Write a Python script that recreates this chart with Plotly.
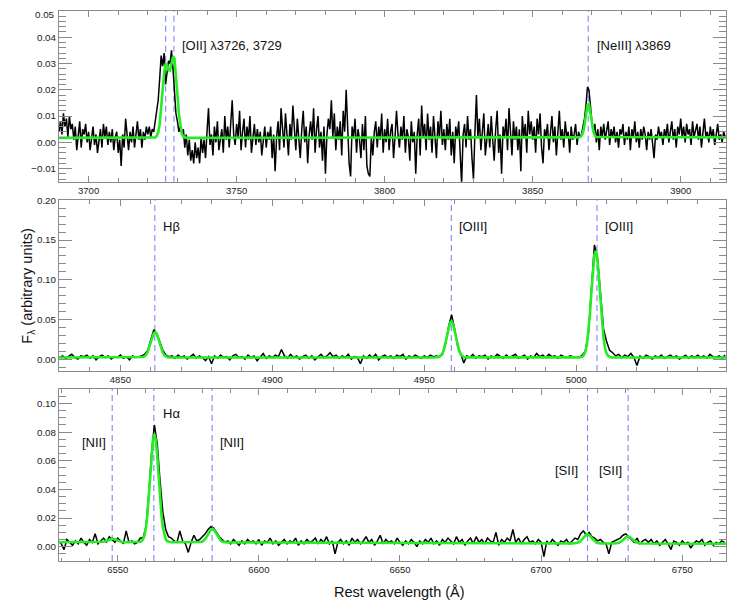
import numpy as np
import plotly.graph_objects as go

# ---------------- Panel 1 : [OII] / [NeIII] region ----------------
p1_start, p1_step = 3690.0, 0.5
p1_flux = [
    0.004, 0.008, 0.003, 0.011, 0.006, 0.009, 0.002, 0.010, 0.005, 0.007,
    0.001, 0.006, -0.003, 0.004, 0.008, -0.002, 0.005, 0.003, 0.007, 0.000,
    0.004, -0.003, 0.002, 0.006, -0.001, 0.003, -0.004, 0.001, 0.005, -0.002,
    0.007, 0.002, 0.006, -0.001, 0.004, 0.000, 0.005, -0.003, 0.002, 0.004,
    -0.004, 0.001, -0.009, 0.003, -0.002, 0.009, 0.002, -0.003, 0.004, 0.000,
    0.006, -0.002, 0.003, 0.008, 0.001, 0.005, -0.002, 0.004, 0.001, 0.006,
    0.003, 0.006, 0.002, 0.005, 0.004, 0.008, 0.010, 0.016, 0.024, 0.033,
    0.029, 0.034, 0.022, 0.027, 0.031, 0.030, 0.035, 0.028, 0.020, 0.011,
    0.008, 0.004, 0.006, 0.003, 0.005, -0.002, 0.003, -0.005, 0.001, -0.007,
    -0.003, -0.008, 0.000, -0.006, -0.002, -0.008, 0.002, -0.004, 0.001, -0.006,
    0.004, 0.013, -0.001, 0.003, -0.005, 0.006, 0.000, 0.008, -0.003, 0.002,
    0.005, -0.004, 0.010, 0.001, 0.006, -0.002, 0.008, 0.016, 0.003, -0.001,
    0.007, 0.002, 0.012, -0.003, 0.004, 0.009, -0.002, 0.006, 0.001, 0.010,
    -0.004, 0.003, 0.007, -0.001, 0.005, 0.000, 0.004, -0.005, 0.002, 0.006,
    -0.002, 0.004, 0.001, 0.006, -0.006, 0.003, -0.011, 0.002, 0.008, -0.003,
    0.013, 0.005, -0.002, 0.011, 0.003, -0.005, 0.007, 0.001, 0.014, 0.004,
    -0.003, 0.009, 0.002, -0.006, 0.005, 0.012, 0.000, 0.006, -0.008, 0.003,
    0.008, 0.001, 0.013, -0.004, 0.005, 0.010, -0.002, 0.004, -0.007, 0.006,
    -0.012, 0.003, 0.009, 0.005, 0.016, 0.002, 0.011, -0.003, 0.006, 0.001,
    0.008, -0.005, 0.012, 0.004, 0.020, 0.003, -0.008, -0.013, 0.006, 0.002,
    0.009, -0.004, 0.005, 0.001, -0.006, 0.007, -0.003, 0.010, -0.009, -0.012,
    -0.013, 0.002, -0.005, 0.004, 0.008, -0.002, 0.006, 0.001, 0.011, -0.004,
    0.005, 0.000, 0.009, -0.003, 0.004, 0.007, -0.006, 0.002, 0.012, 0.003,
    -0.002, 0.006, 0.001, 0.010, -0.004, 0.005, 0.002, -0.007, 0.008, 0.000,
    0.004, -0.012, 0.003, 0.009, -0.005, 0.014, 0.002, 0.007, -0.003, 0.011,
    0.001, 0.006, -0.004, 0.010, 0.003, -0.006, 0.008, 0.002, 0.012, -0.001,
    0.005, -0.003, 0.007, 0.001, 0.009, -0.005, 0.004, -0.008, 0.006, 0.002,
    0.008, -0.004, -0.016, 0.003, 0.007, -0.002, 0.010, 0.001, 0.005, -0.006,
    -0.014, 0.004, 0.018, 0.002, 0.009, -0.003, 0.006, 0.011, -0.005, 0.003,
    0.007, -0.002, 0.010, 0.001, -0.007, 0.005, 0.012, -0.004, 0.003, -0.012,
    0.006, 0.002, 0.009, -0.003, 0.013, 0.004, -0.005, 0.008, 0.001, 0.006,
    -0.003, 0.005, -0.011, 0.010, 0.002, 0.007, -0.004, 0.012, 0.003, 0.008,
    0.001, 0.006, -0.004, 0.009, 0.003, 0.011, -0.002, -0.008, 0.005, 0.002,
    0.007, -0.003, 0.004, 0.010, 0.000, 0.006, -0.005, 0.003, 0.012, 0.001,
    0.005, -0.002, 0.008, 0.002, 0.004, -0.004, 0.006, 0.001, 0.003, 0.007,
    -0.001, 0.004, 0.002, 0.003, 0.006, 0.009, 0.014, 0.021, 0.020, 0.012,
    0.008, 0.004, 0.007, 0.000, 0.005, -0.003, 0.006, 0.002, 0.007, 0.001,
    0.004, 0.008, -0.001, 0.005, 0.002, 0.006, 0.000, 0.004, -0.002, 0.005,
    0.003, 0.007, -0.001, 0.004, 0.001, 0.006, -0.003, 0.005, 0.002, 0.008,
    0.000, 0.004, -0.002, 0.005, 0.001, 0.006, 0.003, -0.003, 0.004, 0.001,
    0.005, -0.002, -0.006, 0.003, 0.001, 0.006, 0.002, 0.004, -0.001, 0.005,
    0.002, 0.007, 0.000, 0.004, 0.008, 0.001, 0.005, -0.002, 0.006, 0.003,
    0.009, 0.002, 0.006, 0.000, 0.007, 0.003, 0.005, -0.001, 0.008, 0.002,
    0.004, 0.007, 0.001, 0.006, -0.002, 0.005, 0.009, 0.002, 0.004, 0.000,
    0.006, 0.002, 0.005, -0.001, 0.004, 0.007, 0.001, 0.003, 0.000, 0.004,
    0.002,
]
# model (green) for panel 1
p1_base_left, p1_base_right = 0.0017, 0.0019
p1_oii_start = 3721.0
p1_oii_model = [0.0017, 0.0017, 0.0017, 0.0019, 0.0024, 0.0037, 0.0069, 0.0124,
                0.0197, 0.0264, 0.0299, 0.0294, 0.0274, 0.0273, 0.0299, 0.0326,
                0.0319, 0.0264, 0.0183, 0.0108, 0.0058, 0.0032, 0.0021, 0.0018,
                0.0017]
p1_neiii_start = 3865.5
p1_neiii_model = [0.0019, 0.0020, 0.0024, 0.0037, 0.0065, 0.0107, 0.0142,
                  0.0146, 0.0115, 0.0072, 0.0041, 0.0026, 0.0020]
p1_range = [3690.0, 3915.3]
p1_top_tick = 0.05          # top y tick of panel 1 = top of its range
p1_yrange = [-0.015, p1_top_tick - 1e-5]
p1_lines = [3726.03, 3728.82, 3868.76]

# ---------------- Panel 2 : Hbeta / [OIII] region ----------------
p2_start, p2_step = 4830.0, 1.0
p2_flux = [
    0.002, 0.004, 0.001, 0.003, 0.006, 0.002, 0.000, 0.004, 0.003, 0.005,
    0.001, 0.004, -0.001, 0.003, 0.005, 0.002, 0.004, 0.000, 0.003, 0.002,
    0.005, 0.001, 0.003, -0.001, 0.004, 0.002, 0.003, 0.004, 0.006, 0.011,
    0.024, 0.037, 0.032, 0.022, 0.011, 0.005, 0.003, 0.004, 0.001, 0.005,
    0.002, 0.004, 0.000, 0.003, 0.006, 0.001, 0.004, 0.002, -0.002, 0.003,
    -0.006, 0.004, 0.001, 0.005, 0.002, 0.003, -0.001, 0.004, 0.006, 0.002,
    0.003, 0.000, 0.005, 0.002, 0.004, -0.002, 0.003, 0.007, 0.001, 0.004,
    0.002, 0.005, 0.003, 0.012, 0.004, 0.001, 0.006, 0.002, 0.004, 0.000,
    0.003, 0.005, 0.001, 0.004, -0.001, 0.003, 0.006, 0.002, 0.004, 0.008,
    0.003, 0.005, 0.001, 0.004, 0.002, 0.006, 0.000, 0.003, 0.002, -0.006,
    0.004, 0.001, 0.005, 0.002, 0.006, -0.001, 0.003, 0.005, 0.002, 0.004,
    0.001, 0.005, 0.003, 0.006, 0.000, 0.004, 0.002, 0.005, 0.003, 0.001,
    0.004, 0.002, 0.005, 0.003, 0.004, 0.003, 0.006, 0.019, 0.041, 0.056,
    0.038, 0.016, 0.007, -0.005, 0.004, 0.002, 0.006, 0.001, 0.004, 0.003,
    0.005, 0.000, 0.004, 0.002, 0.006, 0.003, 0.001, 0.005, 0.002, 0.004,
    0.006, 0.001, 0.003, 0.005, 0.000, 0.004, 0.002, 0.007, 0.003, 0.005,
    0.002, 0.006, 0.003, 0.004, 0.001, 0.005, 0.003, 0.002, 0.004, 0.003,
    0.003, 0.002, 0.005, 0.010, 0.031, 0.085, 0.144, 0.128, 0.079, 0.038,
    0.022, 0.011, 0.008, 0.004, 0.006, 0.002, 0.005, 0.003, 0.007, 0.002,
    -0.008, 0.004, 0.001, 0.005, 0.003, 0.000, 0.004, 0.002, 0.005, 0.001,
    0.003, 0.005, 0.002, 0.004, 0.000, 0.003, 0.005, 0.001, 0.004, 0.002,
    0.005, 0.002, 0.004, 0.001, 0.006, 0.003, 0.002, 0.004, 0.001, 0.005,
]
p2_base = 0.002
p2_hb_start = 4856.0
p2_hb_model = [0.0020, 0.0021, 0.0022, 0.0027, 0.0037, 0.0057, 0.0094, 0.0147,
               0.0214, 0.0280, 0.0327, 0.0339, 0.0312, 0.0255, 0.0186, 0.0124,
               0.0077, 0.0048, 0.0032, 0.0024, 0.0021, 0.0020]
p2_o3a_start = 4953.5
p2_o3a_model = [0.0020, 0.0021, 0.0023, 0.0029, 0.0044, 0.0073, 0.0125, 0.0201,
                0.0296, 0.0390, 0.0457, 0.0474, 0.0435, 0.0354, 0.0257, 0.0168,
                0.0101, 0.0059, 0.0037, 0.0026, 0.0022, 0.0021]
p2_o3b_start = 5001.0
p2_o3b_model = [0.0021, 0.0023, 0.0030, 0.0048, 0.0091, 0.0178, 0.0331, 0.0557,
                0.0839, 0.1118, 0.1316, 0.1367, 0.1251, 0.1011, 0.0722, 0.0458,
                0.0260, 0.0136, 0.0070, 0.0039, 0.0026, 0.0022]
p2_range = [4829.8, 5049.3]
p2_yrange = [-0.015, 0.2001]
p2_lines = [4861.33, 4958.91, 5006.84]

# ---------------- Panel 3 : Halpha / [NII] / [SII] region ----------------
p3_start, p3_step = 6529.0, 1.0
p3_flux = [
    0.004, 0.002, -0.002, 0.005, 0.003, 0.001, 0.004, 0.002, 0.006, 0.003,
    0.001, 0.005, 0.003, 0.009, 0.002, 0.004, 0.006, 0.003, 0.007, 0.005,
    0.003, 0.006, 0.004, 0.002, 0.011, 0.003, 0.004, 0.002, 0.003, 0.006,
    0.006, 0.014, 0.036, 0.066, 0.085, 0.072, 0.046, 0.024, 0.012, 0.007,
    0.006, 0.004, 0.003, 0.011, 0.004, 0.002, -0.004, 0.003, 0.008, 0.004,
    0.005, 0.007, 0.009, 0.012, 0.014, 0.013, 0.010, 0.007, 0.005, 0.003,
    0.004, 0.002, 0.005, 0.003, 0.001, 0.004, 0.002, 0.005, 0.003, 0.004,
    0.002, 0.005, 0.001, 0.004, 0.003, 0.006, 0.002, 0.004, 0.001, 0.003,
    0.005, 0.002, 0.004, 0.003, 0.006, 0.001, 0.004, 0.002, 0.005, 0.003,
    0.004, 0.006, 0.002, 0.005, 0.003, 0.007, 0.002, 0.004, -0.005, 0.003,
    0.005, 0.002, 0.004, 0.001, 0.006, 0.003, 0.005, 0.002, 0.004, 0.007,
    0.003, 0.005, 0.001, 0.004, 0.008, 0.002, 0.005, 0.003, 0.004, 0.002,
    0.006, 0.003, 0.001, 0.004, 0.002, 0.005, 0.003, 0.000, 0.004, 0.002,
    0.005, 0.003, 0.006, 0.002, 0.004, 0.001, 0.005, 0.003, 0.006, 0.004,
    0.002, 0.007, 0.003, 0.005, 0.001, 0.004, 0.006, 0.002, 0.007, 0.003,
    0.005, 0.002, 0.006, 0.004, 0.003, 0.010, 0.001, 0.005, 0.003, 0.006,
    0.004, 0.012, 0.003, 0.006, 0.002, 0.005, 0.007, 0.003, 0.004, 0.002,
    0.005, 0.003, -0.007, 0.004, 0.002, 0.005, 0.003, 0.001, 0.004, 0.003,
    0.005, 0.002, 0.004, 0.006, 0.005, 0.009, 0.011, 0.008, 0.010, 0.007,
    0.006, 0.004, 0.005, 0.003, 0.002, -0.005, 0.003, 0.004, 0.005, 0.006,
    0.008, 0.009, 0.007, 0.005, 0.003, 0.006, 0.002, 0.004, 0.005, 0.003,
    0.005, 0.002, 0.004, 0.001, 0.003, 0.005, 0.002, -0.002, 0.004, 0.003,
    0.001, 0.004, 0.002, 0.003, -0.001, 0.002, 0.004, 0.003, 0.005, 0.001,
    0.003, 0.004, 0.001, 0.003, 0.002, 0.004, 0.003,
]
p3_base_left, p3_base_right = 0.0031, 0.0020
p3_n2a_start = 6543.0
p3_n2a_model = [0.0031, 0.0031, 0.0031, 0.0032, 0.0034, 0.0037, 0.0041, 0.0046,
                0.0051, 0.0055, 0.0056, 0.0055, 0.0051, 0.0046, 0.0041, 0.0037,
                0.0034, 0.0032, 0.0031, 0.0031, 0.0031]
p3_ha_start = 6557.0
p3_ha_model = [0.0031, 0.0032, 0.0034, 0.0039, 0.0053, 0.0081, 0.0133, 0.0219,
               0.0341, 0.0489, 0.0636, 0.0745, 0.0786, 0.0745, 0.0636, 0.0489,
               0.0341, 0.0219, 0.0133, 0.0081, 0.0053, 0.0039, 0.0034, 0.0032,
               0.0031]
p3_n2b_start = 6578.5
p3_n2b_model = [0.0030, 0.0031, 0.0033, 0.0036, 0.0043, 0.0054, 0.0069, 0.0088,
                0.0106, 0.0120, 0.0125, 0.0120, 0.0106, 0.0088, 0.0069, 0.0054,
                0.0043, 0.0036, 0.0033, 0.0031, 0.0030]
p3_s2a_start = 6711.4
p3_s2a_model = [0.0022, 0.0023, 0.0024, 0.0026, 0.0031, 0.0038, 0.0049, 0.0061,
                0.0074, 0.0083, 0.0087, 0.0083, 0.0074, 0.0061, 0.0049, 0.0038,
                0.0031, 0.0026, 0.0024, 0.0023, 0.0022]
p3_s2b_start = 6725.8
p3_s2b_model = [0.0022, 0.0022, 0.0023, 0.0025, 0.0029, 0.0034, 0.0043, 0.0052,
                0.0062, 0.0069, 0.0072, 0.0069, 0.0062, 0.0052, 0.0043, 0.0034,
                0.0029, 0.0025, 0.0023, 0.0022, 0.0022]
p3_range = [6529.2, 6765.5]
p3_yrange = [-0.01, 0.1101]
p3_lines = [6548.05, 6562.80, 6583.45, 6716.44, 6730.82]

# ---------------- helpers ----------------
MODEL_STEP = 0.5


def grid(start, step, n):
    return list(start + step * np.arange(n))


def model_xy(left, right, left_val, right_val, pieces):
    xs, ys = [left], [left_val]
    for start, vals in pieces:
        xs += grid(start, MODEL_STEP, len(vals))
        ys += list(vals)
    xs.append(right)
    ys.append(right_val)
    return xs, ys


x1 = grid(p1_start, p1_step, len(p1_flux))
x2 = grid(p2_start, p2_step, len(p2_flux))
x3 = grid(p3_start, p3_step, len(p3_flux))

m1x, m1y = model_xy(p1_range[0], p1_range[1], p1_base_left, p1_base_right,
                    [(p1_oii_start, p1_oii_model), (p1_neiii_start, p1_neiii_model)])
m2x, m2y = model_xy(p2_range[0], p2_range[1], p2_base, p2_base,
                    [(p2_hb_start, p2_hb_model), (p2_o3a_start, p2_o3a_model),
                     (p2_o3b_start, p2_o3b_model)])
m3x, m3y = model_xy(p3_range[0], p3_range[1], p3_base_left, p3_base_right,
                    [(p3_n2a_start, p3_n2a_model), (p3_ha_start, p3_ha_model),
                     (p3_n2b_start, p3_n2b_model), (p3_s2a_start, p3_s2a_model),
                     (p3_s2b_start, p3_s2b_model)])

GREEN = dict(color="#22ee22", width=2.6)

fig = go.Figure()
for (xd, yd, mx, my, xa, ya, lw) in [
    (x1, p1_flux, m1x, m1y, "x", "y", 1.5),
    (x2, p2_flux, m2x, m2y, "x2", "y2", 1.5),
    (x3, p3_flux, m3x, m3y, "x3", "y3", 1.5),
]:
    fig.add_trace(go.Scatter(x=xd, y=yd, mode="lines",
                             line=dict(color="black", width=lw),
                             xaxis=xa, yaxis=ya, showlegend=False, hoverinfo="skip"))
    fig.add_trace(go.Scatter(x=mx, y=my, mode="lines", line=GREEN,
                             xaxis=xa, yaxis=ya, showlegend=False, hoverinfo="skip"))

AXC = "#8a8a8a"
FONT = "Liberation Sans, Arial, Helvetica, sans-serif"
TICKFONT_Y = dict(size=9.8, color="#222", family=FONT)


def xaxis(rng, anchor):
    return dict(range=rng, domain=[0, 1], anchor=anchor, showline=True,
                linecolor=AXC, linewidth=1, mirror="ticks", ticks="inside",
                ticklen=6, tickcolor=AXC, tickwidth=1, dtick=50, tick0=0,
                showgrid=False, zeroline=False, automargin=False,
                tickfont=dict(size=9.5, color="#222", family=FONT),
                minor=dict(dtick=10, ticks="inside", ticklen=3.5,
                           tickcolor=AXC, showgrid=False))


def yaxis(rng, dom, anchor, dt, mdt):
    return dict(range=rng, domain=dom, anchor=anchor, showline=True,
                linecolor=AXC, linewidth=1, mirror="ticks", ticks="inside",
                ticklen=13, tickcolor=AXC, tickwidth=1, dtick=dt, tick0=0,
                tickformat=".2f", showgrid=False, zeroline=False, automargin=False,
                ticklabeloverflow="allow", tickfont=TICKFONT_Y,
                minor=dict(dtick=mdt, ticks="inside", ticklen=7,
                           tickcolor=AXC, showgrid=False))


shapes = []
for xa, ya, lines in [("x", "y", p1_lines), ("x2", "y2", p2_lines), ("x3", "y3", p3_lines)]:
    for lw in lines:
        shapes.append(dict(type="line", xref=xa, yref=ya + " domain", x0=lw, x1=lw,
                           y0=0, y1=1, layer="below",
                           line=dict(color="#8585f5", width=1.1, dash="6px,4px")))

LAB = dict(size=13, color="#111", family=FONT)
ann = []


def label(text, xa, ya, xv, yv, anchor, shift):
    ann.append(dict(text=text, xref=xa, yref=ya, x=xv, y=yv, xanchor=anchor,
                    yanchor="middle", xshift=shift, showarrow=False, font=LAB))


label("[OII] λ3726, 3729", "x", "y", p1_lines[1], 0.0368, "left", 6)
label("[NeIII] λ3869", "x", "y", p1_lines[2], 0.0368, "left", 7)
label("Hβ", "x2", "y2", p2_lines[0], 0.167, "left", 6)
label("[OIII]", "x2", "y2", p2_lines[1], 0.167, "left", 6)
label("[OIII]", "x2", "y2", p2_lines[2], 0.167, "left", 6)
label("[NII]", "x3", "y3", p3_lines[0], 0.0729, "right", -4)
label("Hα", "x3", "y3", p3_lines[1], 0.0933, "left", 7)
label("[NII]", "x3", "y3", p3_lines[2], 0.0729, "left", 6)
label("[SII]", "x3", "y3", p3_lines[3], 0.0532, "right", -8)
label("[SII]", "x3", "y3", p3_lines[4], 0.0532, "right", -4)

# top tick label of panel 1 (the top of its axis), nudged just below the frame
ann.append(dict(text=f"{p1_top_tick:.2f}", xref="paper", yref="y domain", x=0, y=1,
                xanchor="right", yanchor="middle", xshift=-2, yshift=-3,
                showarrow=False, font=TICKFONT_Y))

ann.append(dict(text="F<sub>λ</sub> (arbitrary units)", xref="paper", yref="y2 domain",
                x=-0.0465, y=0.5, xanchor="center", yanchor="middle", textangle=-90,
                showarrow=False, font=dict(size=14.5, color="#111", family=FONT)))
ann.append(dict(text="Rest wavelength (Å)", xref="paper", yref="paper",
                x=0.511, y=-0.057, xanchor="center", yanchor="middle",
                showarrow=False, font=dict(size=14.5, color="#111", family=FONT)))

# the page body adds an 8px offset, so the figure box is shifted accordingly
fig.update_layout(
    width=739, height=602, autosize=False,
    margin=dict(l=51, r=21, t=3, b=49),
    paper_bgcolor="white", plot_bgcolor="white",
    font=dict(family=FONT),
    xaxis=xaxis(p1_range, "y"),
    yaxis=yaxis(p1_yrange, [0.6896, 1.0], "x", 0.01, 0.002),
    xaxis2=xaxis(p2_range, "y2"),
    yaxis2=yaxis(p2_yrange, [0.3455, 0.6558], "x2", 0.05, 0.01),
    xaxis3=xaxis(p3_range, "y3"),
    yaxis3=yaxis(p3_yrange, [0.0, 0.3127], "x3", 0.02, 0.005),
    shapes=shapes,
    annotations=ann,
    showlegend=False,
)

fig.write_html("out.html")
